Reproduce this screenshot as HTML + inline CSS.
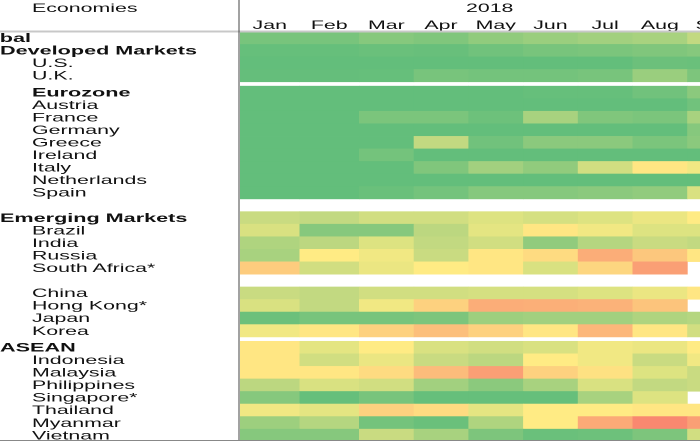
<!DOCTYPE html>
<html><head><meta charset="utf-8"><style>
html,body{margin:0;padding:0;background:#fff;width:700px;height:441px;overflow:hidden}
svg text{font-family:"Liberation Sans",Arial,sans-serif;font-size:12px;fill:#111}
</style></head><body>
<svg id="chart" width="700" height="441" viewBox="0 0 700 441" xmlns="http://www.w3.org/2000/svg">
<g id="cells"></g>
<g id="labels"></g>
<g id="headers"></g>
<line x1="0" y1="31.5" x2="700" y2="31.5" stroke="#c8c8c8" stroke-width="2"/>
<line x1="239" y1="0" x2="239" y2="441" stroke="#444" stroke-width="1"/>
<line x1="0" y1="440.5" x2="700" y2="440.5" stroke="#888" stroke-width="1"/>
<text id="econ" x="32" y="12">Economies</text>
<text id="yr" x="466" y="12">2018</text>
</svg>
<script>
const months = ["Jan","Feb","Mar","Apr","May","Jun","Jul","Aug","Sep"];
const rowNames = ["Global","Developed Markets","U.S.","U.K.","Eurozone","Austria","France","Germany","Greece","Ireland","Italy","Netherlands","Spain","Emerging Markets","Brazil","India","Russia","South Africa*","China","Hong Kong*","Japan","Korea","ASEAN","Indonesia","Malaysia","Philippines","Singapore*","Thailand","Myanmar","Vietnam"];
const rowBold = [1,1,0,0,1,0,0,0,0,0,0,0,0,1,0,0,0,0,0,0,0,0,1,0,0,0,0,0,0,0];
const rowIndent = [0,0,1,1,1,1,1,1,1,1,1,1,1,0,1,1,1,1,1,1,1,1,0,1,1,1,1,1,1,1];
const gapBefore = [0,0,0,0,0.33,0,0,0,0,0,0,0,0,1,0,0,0,0,1,0,0,0,0.33,0,0,0,0,0,0,0];
const values = [
[88,88,82,84,78,75,72,70,62],
[98,98,96,97,92,88,86,84,82],
[100,100,100,100,100,100,100,95,96],
[99,99,98,88,90,90,88,75,85],
[100,100,100,100,100,98,98,92,80],
[100,100,100,100,100,100,100,100,92],
[100,100,86,86,94,70,84,86,70],
[100,100,100,100,100,100,100,100,82],
[100,100,100,62,92,80,80,86,80],
[100,100,90,100,100,100,100,100,100],
[100,100,100,84,72,78,58,48,52],
[100,100,100,100,100,100,100,100,100],
[100,100,96,90,82,82,80,78,56],
[60,62,58,58,55,57,55,53,50],
[56,82,82,64,54,48,52,55,55],
[68,64,55,62,58,78,66,60,62],
[70,50,52,60,48,44,26,36,48],
[38,58,53,50,48,56,42,20,null],
[60,62,58,58,57,57,55,53,48],
[56,62,52,40,26,27,28,35,null],
[95,88,88,85,74,72,72,68,66],
[52,48,40,33,40,48,30,48,58],
[48,54,50,56,58,56,52,53,50],
[48,58,53,60,64,50,52,60,52],
[48,48,44,32,20,40,46,55,60],
[64,56,58,72,80,70,56,62,60],
[82,98,88,98,98,98,70,55,null],
[52,54,40,44,54,50,50,48,48],
[74,66,90,96,68,50,25,10,20],
[82,82,60,70,85,96,94,85,58]
];
const NS="http://www.w3.org/2000/svg";
const colW=[59.5,59.5,54.7,54.7,54.7,54.7,54.7,54.7,54.7];
function xPos(i){let x=240;for(let k=0;k<i;k++)x+=colW[k];return x;}
const rowH=12.55, top0=31.5;
function yPos(r){let s=0;for(let k=0;k<=r;k++)s+=gapBefore[k];return top0+(r+s)*rowH;}
const stops=[[0,[248,105,107]],[10,[249,136,112]],[25,[251,170,119]],[40,[253,209,127]],[50,[255,235,132]],[55,[221,227,129]],[60,[201,219,129]],[70,[168,210,127]],[85,[125,197,124]],[100,[99,190,123]]];
function color(v){
  for(let i=1;i<stops.length;i++){
    if(v<=stops[i][0]){const a=stops[i-1],b=stops[i];const t=(v-a[0])/(b[0]-a[0]);
      return `rgb(${Math.round(a[1][0]+(b[1][0]-a[1][0])*t)},${Math.round(a[1][1]+(b[1][1]-a[1][1])*t)},${Math.round(a[1][2]+(b[1][2]-a[1][2])*t)})`;}
  }
  return 'rgb(99,190,123)';
}
const cells=document.getElementById('cells'), labels=document.getElementById('labels'), headers=document.getElementById('headers');
// stretch factors: reference text is horizontally wider than Liberation Sans
function stretch(t,k){const L=t.getComputedTextLength();t.setAttribute('textLength',(L*k).toFixed(1));t.setAttribute('lengthAdjust','spacingAndGlyphs');}
const probeR=document.createElementNS(NS,'text');probeR.textContent='Netherlands';document.getElementById('chart').appendChild(probeR);
const kReg=115/probeR.getComputedTextLength();probeR.remove();
const probeB=document.createElementNS(NS,'text');probeB.setAttribute('font-weight','bold');probeB.textContent='Developed Markets';document.getElementById('chart').appendChild(probeB);
const kBold=197/probeB.getComputedTextLength();probeB.remove();
stretch(document.getElementById('econ'),kReg);
stretch(document.getElementById('yr'),kReg);
values.forEach((row,r)=>{
  row.forEach((v,c)=>{
    if(v===null) return;
    const rect=document.createElementNS(NS,'rect');
    rect.setAttribute('x',xPos(c));rect.setAttribute('y',yPos(r));
    rect.setAttribute('width',colW[c]+0.5);rect.setAttribute('height',rowH+0.4);
    rect.setAttribute('fill',color(v));
    
    
    cells.appendChild(rect);
  });
  const t=document.createElementNS(NS,'text');
  const name=rowNames[r];
  t.setAttribute('y',yPos(r)+10.5);
  if(rowBold[r]) t.setAttribute('font-weight','bold');
  t.textContent=name;
  
  
  labels.appendChild(t);
  stretch(t,rowBold[r]?kBold:kReg);
  const w=parseFloat(t.getAttribute('textLength'));
  t.setAttribute('x', r===0 ? 31-w : (rowIndent[r]?32:0));
});
months.forEach((m,c)=>{
  const t=document.createElementNS(NS,'text');
  t.setAttribute('x',xPos(c)+colW[c]/2);t.setAttribute('y',29);
  t.setAttribute('text-anchor','middle');
  t.textContent=m;
  
  
  headers.appendChild(t);
  stretch(t,kReg);
});
</script>
</body></html>
